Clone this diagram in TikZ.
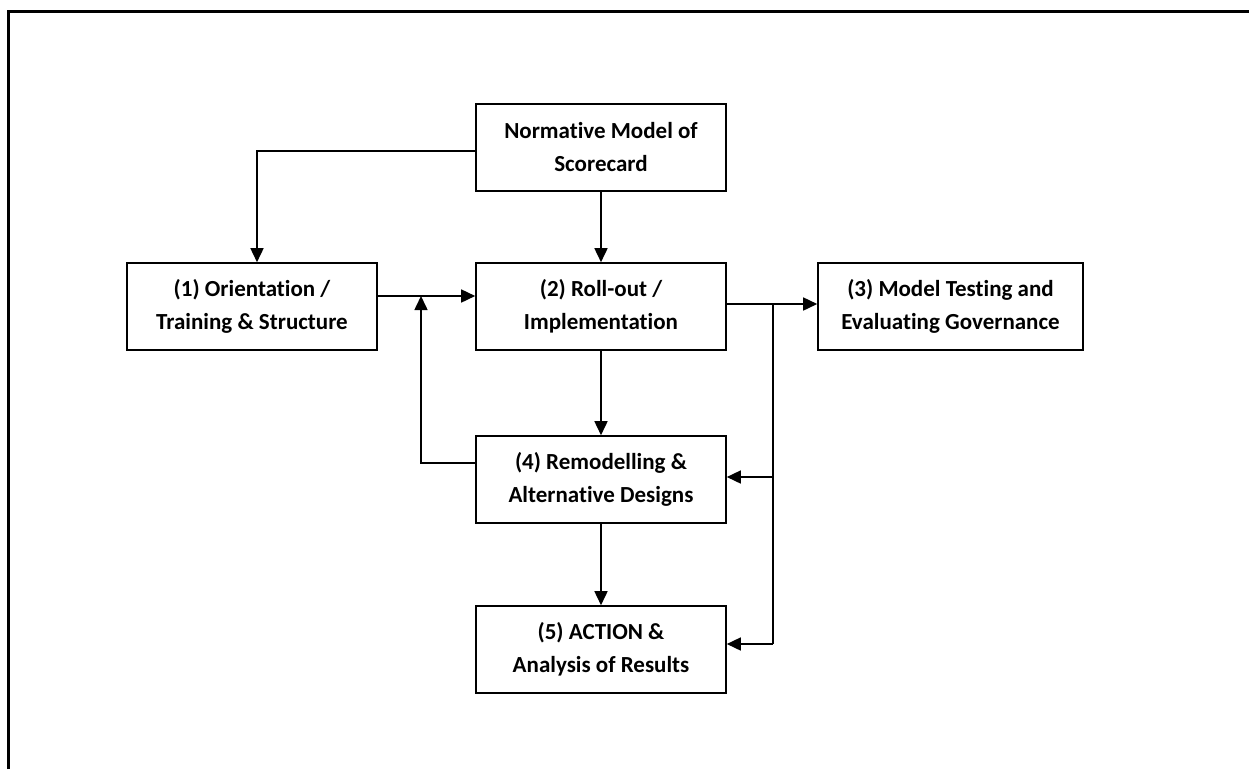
\documentclass[tikz,border=0pt]{standalone}
\usepackage{fontspec}
\setmainfont{Carlito}[RawFeature={-liga}]
\usetikzlibrary{arrows.meta}
\begin{document}
\begin{tikzpicture}[x=1pt,y=-1pt,
  box/.style={draw, line width=1.6pt, minimum height=87pt, inner sep=2pt,
    align=center, font=\fontsize{23}{33}\selectfont\bfseries},
  link/.style={line width=1.6pt},
  arr/.style={link, -{Triangle[length=14pt,width=13pt]}}]
  \useasboundingbox (0,0) rectangle (1249,769);
  % partial page frame
  \draw[line width=3pt] (8,769) -- (8,11) -- (1249,11);

  \node[box, minimum width=250pt] (norm) at (601,147.5) {Normative Model of\\Scorecard};
  \node[box, minimum width=250pt] (o1) at (252,306.5) {(1) Orientation /\\Training \& Structure};
  \node[box, minimum width=250pt] (r2) at (601,306.5) {(2) Roll-out /\\Implementation};
  \node[box, minimum width=265pt] (m3) at (950.5,306.5) {(3) Model Testing and\\Evaluating Governance};
  \node[box, minimum width=250pt] (r4) at (601,479.5) {(4) Remodelling \&\\Alternative Designs};
  \node[box, minimum width=250pt] (a5) at (601,649.5) {(5) ACTION \&\\Analysis of Results};

  \coordinate (j1) at (421,296);
  \coordinate (j2) at (773,304);
  \coordinate (j3) at (773,644);

  \draw[arr] ([yshift=-3.5pt]norm.west) -| ([xshift=5pt]o1.north);
  \draw[arr] (norm.south) -- (r2.north);
  \draw[arr] ([yshift=10.5pt]o1.east) -- ([yshift=10.5pt]r2.west);
  \draw[arr] ([yshift=16.5pt]r4.west) -| (j1);
  \draw[arr] ([yshift=2.5pt]r2.east) -- ([yshift=2.5pt]m3.west);
  \draw[link] (j2) -- (j3);
  \draw[arr] (j2 |- r4.east) ++(0,-2.5) -- ([yshift=2.5pt]r4.east);
  \draw[arr] (j3) -- ([yshift=5.5pt]a5.east);
  \draw[arr] (r2.south) -- (r4.north);
  \draw[arr] (r4.south) -- (a5.north);
\end{tikzpicture}
\end{document}
